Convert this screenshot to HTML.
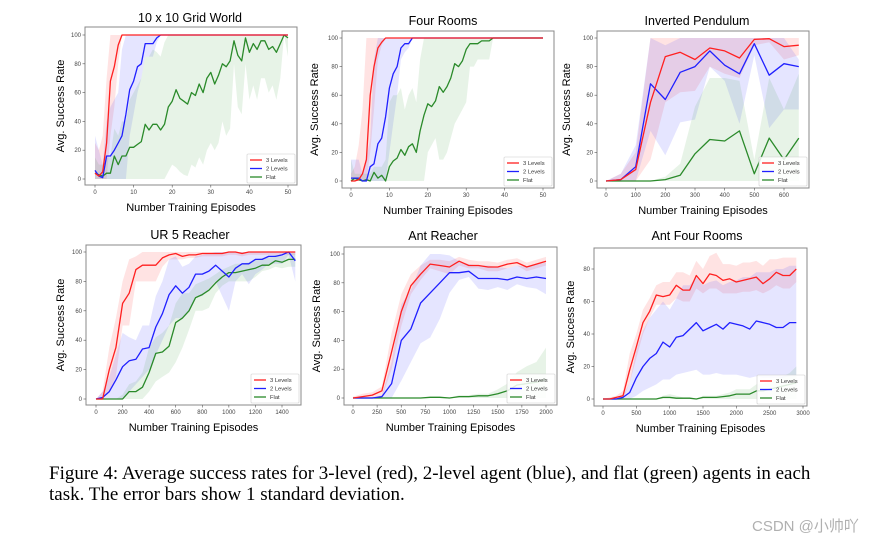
<!DOCTYPE html>
<html><head><meta charset="utf-8">
<style>
html,body{margin:0;padding:0;background:#fff;width:877px;height:539px;overflow:hidden}
svg{display:block}
.cap{position:absolute;left:49px;font-family:"Liberation Serif",serif;font-size:19px;color:#000;white-space:nowrap}
.wm{position:absolute;left:752px;top:515px;font-family:"Liberation Sans","Noto Sans CJK SC",sans-serif;font-size:15px;color:#b0b0b0}
</style></head>
<body>
<svg id="fig" width="877" height="460"></svg>
<div class="cap" style="top:463px;">Figure 4: Average success rates for 3-level (red), 2-level agent (blue), and flat (green) agents in each</div>
<div class="cap" style="top:484px;">task. The error bars show 1 standard deviation.</div>
<div class="wm">CSDN @小帅吖</div>
<script>
// ---------- DATA ----------
const gwX = Array.from({length:51},(_, i)=>i);
const gwRed   = [4,2,5,25,68,78,93,100].concat(Array(43).fill(100));
const gwRedLo = [0,0,0,0,30,50,80,100].concat(Array(43).fill(100));
const gwRedHi = [25,20,30,70,100,100,100,100].concat(Array(43).fill(100));
const gwBlue   = [6,2,1,16,16,20,25,30,45,62,68,78,80,94,94,94,98].concat(Array(34).fill(100));
const gwBlueLo = [0,0,0,0,0,0,0,0,0,30,45,60,70,85,85,85,95].concat(Array(34).fill(100));
const gwBlueHi = [30,20,10,40,50,55,60,90,100,100,100,100,100,100,100,100,100].concat(Array(34).fill(100));
const gwGreen   = [4,3,2,4,4,16,10,16,16,22,22,24,26,38,34,38,38,34,38,50,54,62,56,54,52,60,58,66,60,70,74,66,72,80,78,82,96,86,82,98,88,94,90,96,96,90,92,88,94,100,98];
const gwGreenLo = [0,0,0,0,0,0,0,0,0,0,0,0,0,0,0,0,0,0,0,5,10,8,5,3,2,10,8,15,10,20,25,20,25,40,30,35,80,50,45,80,55,65,55,70,70,60,65,55,70,100,85];
const gwGreenHi = [15,10,10,15,15,35,30,40,40,55,60,65,70,85,85,90,88,85,95].concat(Array(32).fill(100));

const frX = Array.from({length:51},(_, i)=>i);
const frRed   = [0,0,1,5,15,60,80,93,97].concat(Array(42).fill(100));
const frRedLo = [0,0,0,0,0,20,50,85,95].concat(Array(42).fill(100));
const frRedHi = [5,10,25,50,100,100,100,100,100].concat(Array(42).fill(100));
const frBlue   = [2,2,2,0,0,10,12,26,30,45,65,75,80,93,96,96].concat(Array(35).fill(100));
const frBlueLo = [0,0,0,0,0,0,0,0,0,0,20,40,60,85,90,93].concat(Array(35).fill(100));
const frBlueHi = [15,15,15,5,15,30,85,100,100,100,100,100,100,100,100,100].concat(Array(35).fill(100));
const frGreen   = [0,2,1,0,1,0,6,2,4,0,10,14,16,22,18,24,26,20,35,46,54,52,56,66,62,66,72,82,80,84,92,96,96,96,98,98,98].concat(Array(14).fill(100));
const frGreenLo = [0,0,0,0,0,0,0,0,0,0,0,0,0,0,0,0,0,0,0,0,20,25,30,15,15,20,30,40,45,50,55,80,80,85,85,85,85].concat(Array(14).fill(100));
const frGreenHi = [15,5,5,5,5,5,10,10,10,15,55,60,60,65,50,60,65,55,85].concat(Array(32).fill(100));

const ipX = [0,50,100,150,200,250,300,350,400,450,500,550,600,650];
const ipRed   = [0,1,8,55,87,90,85,93,91,86,99,99.5,94,95];
const ipRedLo = [0,0,0,15,55,62,63,80,75,72,95,97,85,88];
const ipRedHi = [0,5,20,100,100,100,100,100,100,100,100,100,100,100];
const ipBlue   = [0,1,10,68,57,76,80,91,81,75,96,74,82,80];
const ipBlueLo = [0,0,0,35,18,41,43,80,70,40,88,37,50,50];
const ipBlueHi = [0,5,25,100,95,100,100,100,100,100,100,100,100,85];
const ipGreen   = [0,0,0,0,1,4,19,29,28,35,5,30,15,30];
const ipGreenLo = [0,0,0,0,0,0,0,0,0,0,0,0,0,0];
const ipGreenHi = [0,0,0,0,3,12,52,72,72,70,15,72,50,75];

const urX = Array.from({length:31},(_, i)=>i*50);
const urRed   = [0,0,20,35,65,72,88,91,91,91,96,98,99,97,98,98,99,99,99,99,100,100,99,100,100,100,100,100,100,100,100];
const urRedLo = [0,0,5,15,50,50,80,80,80,80,90,95,95,95,96,96,97,97,97,97,98,98,97,98,98,98,98,98,98,98,98];
const urRedHi = [0,5,35,55,80,95,97,100,100,100,100,100,100,100,100,100,100,100,100,100,100,100,100,100,100,100,100,100,100,100,100];
const urBlue   = [0,1,5,13,22,26,27,34,35,49,58,71,77,72,76,85,85,87,91,87,83,89,92,92,95,95,97,97,98,100,94];
const urBlueLo = [0,0,0,0,0,5,10,15,20,30,40,50,55,55,60,70,70,75,80,70,60,80,85,78,85,88,92,92,92,98,80];
const urBlueHi = [0,5,15,30,45,42,40,50,50,70,80,95,97,90,92,97,98,99,100,100,100,100,100,100,100,100,100,100,100,100,100];
const urGreen   = [0,0,0,0,0,5,5,8,18,31,32,36,52,55,60,69,71,74,79,83,86,86,87,88,89,91,91,94,93,95,95];
const urGreenLo = [0,0,0,0,0,0,0,0,5,12,15,18,25,35,47,60,60,62,72,77,80,80,80,80,83,87,88,90,89,90,90];
const urGreenHi = [0,0,0,0,3,10,12,18,35,42,45,50,65,72,72,78,80,82,85,88,90,92,92,93,95,96,96,98,97,99,99];

const arX = Array.from({length:21},(_, i)=>i*100);
const arRed   = [0,1,2,5,32,60,78,86,93,92,91,95,92,92,91,91,93,94,91,93,95];
const arRedLo = [0,0,0,0,20,50,72,82,90,88,86,92,90,90,88,88,90,92,88,90,92];
const arRedHi = [1,3,4,8,45,72,86,92,96,96,95,98,96,95,95,94,96,97,94,96,98];
const arBlue   = [0,0,0,1,10,40,48,66,73,80,87,87,88,83,83,83,82,84,83,84,83];
const arBlueLo = [0,0,0,0,0,12,25,38,42,55,73,82,84,76,75,77,75,79,77,76,72];
const arBlueHi = [0,0,0,2,25,65,75,92,100,100,99,95,93,92,92,91,90,92,91,93,94];
const arGreen   = [0,0,0,0,0,0,0,0,0.5,0.5,0,1,1,1.5,1.5,3,5,9,10,11,13];
const arGreenLo = [0,0,0,0,0,0,0,0,0,0,0,0,0,0,0,0,0,0,0,0,0];
const arGreenHi = [0,0,0,0,0,0,0,0,1,1,0,2,2,3,3,6,10,18,22,25,35];

const afX = Array.from({length:30},(_, i)=>i*100);
const afRed   = [0,0,1,2,18,32,47,54,64,63,64,70,67,67,76,71,77,76,73,74,72,73,74,75,71,74,78,76,76,80];
const afRedLo = [0,0,0,0,10,25,40,50,58,58,58,62,60,60,68,65,68,68,65,65,65,66,66,67,65,67,70,68,68,72];
const afRedHi = [0,1,2,5,28,40,55,62,70,72,72,78,78,76,85,80,88,90,83,83,82,84,84,85,82,86,86,87,87,87];
const afBlue   = [0,0,0,1,4,13,20,25,28,35,32,38,39,43,47,42,44,46,43,47,46,45,43,48,47,46,44,44,47,47];
const afBlueLo = [0,0,0,0,0,2,5,7,9,12,12,15,16,17,18,15,15,16,15,15,15,14,13,14,13,13,13,13,14,14];
const afBlueHi = [0,0,0,2,10,30,42,50,55,60,55,62,70,70,75,70,72,73,70,72,73,75,75,78,78,78,80,80,82,82];
const afGreen   = [0,0,0,0,0,0,0,0,0,1,1,0.5,0.5,0.5,0,1,1,1,1.5,2,3,3,3,5,5,6,7,8,9,10];
const afGreenLo = Array(30).fill(0);
const afGreenHi = [0,0,0,0,0,0,0,0,0,2,3,2,1,1,0,2,2,2,3,4,6,6,6,9,9,11,12,14,16,20];

const pctTicks = [0,20,40,60,80,100];
const afYTicks = [0,20,40,60,80];
const gwXTicks = [0,10,20,30,40,50];
const ipXTicks = [0,100,200,300,400,500,600];
const urXTicks = [0,200,400,600,800,1000,1200,1400];
const arXTicks = [0,250,500,750,1000,1250,1500,1750,2000];
const afXTicks = [0,500,1000,1500,2000,2500,3000];

// ---------- LAYOUT ----------
const panels = [
 {name:'grid-world',title:'10 x 10 Grid World',box:[85,27,297,185],xm:[0,95,50,288],ym:[0,179,100,35],ylx:60,tx:190,ty:22,xt:gwXTicks,yt:pctTicks,
  x:gwX,s:[[gwRed,gwRedLo,gwRedHi],[gwBlue,gwBlueLo,gwBlueHi],[gwGreen,gwGreenLo,gwGreenHi]]},
 {name:'four-rooms',title:'Four Rooms',box:[342,31,554,188],xm:[0,351,50,543],ym:[0,181,100,38],ylx:314,tx:443,ty:25,xt:gwXTicks,yt:pctTicks,
  x:frX,s:[[frRed,frRedLo,frRedHi],[frBlue,frBlueLo,frBlueHi],[frGreen,frGreenLo,frGreenHi]]},
 {name:'inverted-pendulum',title:'Inverted Pendulum',box:[597,31,809,188],xm:[0,606,600,784],ym:[0,181,100,38],ylx:566,tx:697,ty:25,xt:ipXTicks,yt:pctTicks,
  x:ipX,s:[[ipRed,ipRedLo,ipRedHi],[ipBlue,ipBlueLo,ipBlueHi],[ipGreen,ipGreenLo,ipGreenHi]]},
 {name:'ur5-reacher',title:'UR 5 Reacher',box:[86,245,301,405],xm:[0,96,1400,282],ym:[0,399,100,252],ylx:60,tx:190,ty:239,xt:urXTicks,yt:pctTicks,
  x:urX,s:[[urRed,urRedLo,urRedHi],[urBlue,urBlueLo,urBlueHi],[urGreen,urGreenLo,urGreenHi]]},
 {name:'ant-reacher',title:'Ant Reacher',box:[344,247,557,405],xm:[0,353,2000,546],ym:[0,398,100,254],ylx:316,tx:443,ty:240,xt:arXTicks,yt:pctTicks,
  x:arX,s:[[arRed,arRedLo,arRedHi],[arBlue,arBlueLo,arBlueHi],[arGreen,arGreenLo,arGreenHi]]},
 {name:'ant-four-rooms',title:'Ant Four Rooms',box:[594,248,807,406],xm:[0,603,3000,803],ym:[0,399,80,269],ylx:570,tx:697,ty:240,xt:afXTicks,yt:afYTicks,
  x:afX,s:[[afRed,afRedLo,afRedHi],[afBlue,afBlueLo,afBlueHi],[afGreen,afGreenLo,afGreenHi]]},
];
const colors = ['#ff2020','#2020ff','#2a8a2a'];
const fills = ['rgba(255,60,60,0.14)','rgba(70,70,255,0.14)','rgba(60,160,60,0.12)'];
const labels = ['3 Levels','2 Levels','Flat'];
const seriesNames = ['three-levels','two-levels','flat'];
const NS='http://www.w3.org/2000/svg';
const fig=document.getElementById('fig');
function mk(tag,attrs,parent){const e=document.createElementNS(NS,tag);for(const k in attrs)e.setAttribute(k,attrs[k]);(parent||fig).appendChild(e);return e;}

panels.forEach(p=>{
  const g=mk('g',{});
  
  
  const sx=v=>p.xm[1]+(v-p.xm[0])*(p.xm[3]-p.xm[1])/(p.xm[2]-p.xm[0]);
  const sy=v=>p.ym[1]+(v-p.ym[0])*(p.ym[3]-p.ym[1])/(p.ym[2]-p.ym[0]);
  const [l,t,r,b]=p.box;
  const cp=mk('clipPath',{id:'c-'+p.name},g); mk('rect',{x:l,y:t,width:r-l,height:b-t},cp);
  const plot=mk('g',{'clip-path':'url(#c-'+p.name+')'},g);
  p.s.forEach((s,k)=>{
    const [m,lo,hi]=s; let d='';
    p.x.forEach((xv,i)=>{d+=(i?'L':'M')+sx(xv).toFixed(1)+','+sy(hi[i]).toFixed(1);});
    for(let i=p.x.length-1;i>=0;i--) d+='L'+sx(p.x[i]).toFixed(1)+','+sy(lo[i]).toFixed(1);
    const e=mk('path',{d:d+'Z',fill:fills[k],stroke:'none'},plot);
    
    
  });
  [2,1,0].forEach(k=>{
    const m=p.s[k][0];
    const pts=p.x.map((xv,i)=>sx(xv).toFixed(1)+','+sy(m[i]).toFixed(1)).join(' ');
    const e=mk('polyline',{points:pts,fill:'none',stroke:colors[k],'stroke-width':1.3,'stroke-linejoin':'round'},plot);
    
    
  });
  const fr=mk('rect',{x:l,y:t,width:r-l,height:b-t,fill:'none',stroke:'#888',"stroke-width":1},g);
  
  
  p.xt.forEach(v=>{
    const x=sx(v);
    mk('line',{x1:x,x2:x,y1:b,y2:b+2.5,stroke:'#555','stroke-width':0.6},g);
    const tx=mk('text',{x:x,y:b+9,'font-size':6,'text-anchor':'middle',fill:'#444','font-family':'Liberation Sans, sans-serif'},g);
    tx.textContent=v;
    
    
  });
  p.yt.forEach(v=>{
    const y=sy(v);
    mk('line',{x1:l-2.5,x2:l,y1:y,y2:y,stroke:'#555','stroke-width':0.6},g);
    const tx=mk('text',{x:l-4,y:y+2,'font-size':6,'text-anchor':'end',fill:'#444','font-family':'Liberation Sans, sans-serif'},g);
    tx.textContent=v;
    
    
  });
  const ti=mk('text',{x:p.tx,y:p.ty,'font-size':12.5,'text-anchor':'middle',fill:'#000','font-family':'Liberation Sans, sans-serif'},g);
  ti.textContent=p.title;
  
  
  const xl=mk('text',{x:(l+r)/2,y:b+26,'font-size':11,'text-anchor':'middle',fill:'#000','font-family':'Liberation Sans, sans-serif'},g);
  xl.textContent='Number Training Episodes';
  
  
  const cy=(t+b)/2;
  const yl=mk('text',{x:p.ylx,y:cy,'font-size':11,'text-anchor':'middle',fill:'#000','font-family':'Liberation Sans, sans-serif',transform:`rotate(-90 ${p.ylx} ${cy}) translate(0 4)`},g);
  yl.textContent='Avg. Success Rate';
  
  
  const lg=mk('g',{},g);
  
  
  const lw=48,lh=29,lx=r-lw-2,ly=b-lh-2;
  mk('rect',{x:lx,y:ly,width:lw,height:lh,fill:'rgba(255,255,255,0.85)',stroke:'#ccc','stroke-width':0.6,rx:1},lg);
  labels.forEach((lab,k)=>{
    const yy=ly+6+k*8.5;
    mk('line',{x1:lx+3,x2:lx+15,y1:yy,y2:yy,stroke:colors[k],'stroke-width':1.3},lg);
    const tx=mk('text',{x:lx+19,y:yy+2,'font-size':5.8,fill:'#333','font-family':'Liberation Sans, sans-serif'},lg);
    tx.textContent=lab;
    
    
  });
});
</script>
</body></html>
